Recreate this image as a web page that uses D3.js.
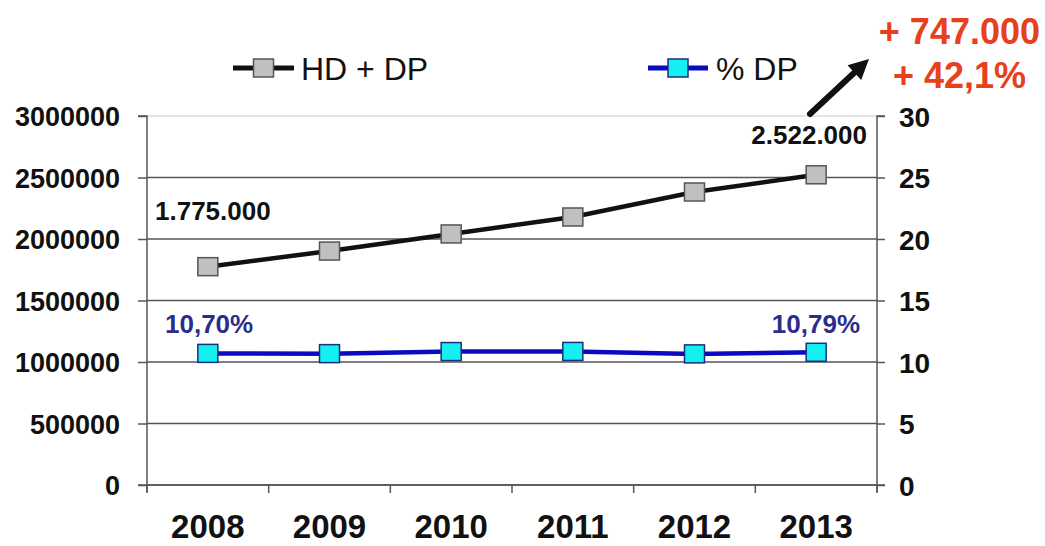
<!DOCTYPE html>
<html>
<head>
<meta charset="utf-8">
<script src="https://cdn.jsdelivr.net/npm/d3@7"></script>
<style>
  html, body { margin: 0; padding: 0; background: #fff; }
  svg { display: block; font-family: Arial, "Liberation Sans", sans-serif; }
</style>
</head>
<body>
<svg id="chart" width="1045" height="546"></svg>
<script>
// Yearly data
const years = ["2008", "2009", "2010", "2011", "2012", "2013"];
const hdDp = [1775000, 1902000, 2041000, 2179000, 2382000, 2522000];
const pctDp = [10.70, 10.68, 10.85, 10.86, 10.66, 10.79];

// Axis tick values
const leftTicks = [0, 500000, 1000000, 1500000, 2000000, 2500000, 3000000];
const rightTicks = [0, 5, 10, 15, 20, 25, 30];

// Labels
const seriesNames = ["HD + DP", "% DP"];
const firstValueLabel = "1.775.000";
const lastValueLabel = "2.522.000";
const firstPctLabel = "10,70%";
const lastPctLabel = "10,79%";
const growthLabels = ["+ 747.000", "+ 42,1%"];

const svg = d3.select("#chart");
const L = 147, R = 877, T = 116, B = 485;

const x = d3.scaleBand().domain(years).range([L, R]).paddingInner(0).paddingOuter(0);
const yL = d3.scaleLinear().domain([0, 3000000]).range([B, T]);
const yR = d3.scaleLinear().domain([0, 30]).range([B, T]);

// Gridlines
svg.append("g")
  .selectAll("line")
  .data(leftTicks)
  .join("line")
  .attr("x1", L).attr("x2", R)
  .attr("y1", d => yL(d)).attr("y2", d => yL(d))
  .attr("stroke", d => d === 3000000 ? "#dcdcdc" : "#555")
  .attr("stroke-width", 1.5);

// Left axis
const gL = svg.append("g").attr("transform", `translate(${L},0)`)
  .call(d3.axisLeft(yL).tickValues(leftTicks).tickSize(9).tickPadding(18).tickFormat(d => String(d)));
gL.select(".domain").attr("stroke", "#555").attr("stroke-width", 1.5).attr("d", `M-9,${T}H0V${B + 7}`);
gL.selectAll(".tick line").attr("stroke", "#555").attr("stroke-width", 1.5);
gL.selectAll(".tick text").attr("font-size", 27).attr("font-weight", "bold").attr("fill", "#111")
  .attr("font-family", "Arial, 'Liberation Sans', sans-serif").attr("dy", "0.36em");

// Right axis
const gR = svg.append("g").attr("transform", `translate(${R},0)`)
  .call(d3.axisRight(yR).tickValues(rightTicks).tickSize(8).tickPadding(14).tickFormat(d => String(d)));
gR.select(".domain").attr("stroke", "#555").attr("stroke-width", 1.5).attr("d", `M8,${T}H0V${B + 7}`);
gR.selectAll(".tick line").attr("stroke", "#555").attr("stroke-width", 1.5);
gR.selectAll(".tick text").attr("font-size", 28).attr("font-weight", "bold").attr("fill", "#111")
  .attr("font-family", "Arial, 'Liberation Sans', sans-serif").attr("dy", "0.36em");

// Bottom axis: ticks between categories
const boundaries = years.map(d => x(d)).concat([x(years[years.length - 1]) + x.bandwidth()]);
svg.append("g").selectAll("line").data(boundaries).join("line")
  .attr("x1", d => d).attr("x2", d => d)
  .attr("y1", B).attr("y2", B + 8)
  .attr("stroke", "#555").attr("stroke-width", 1.5);
svg.append("line").attr("x1", L - 9).attr("x2", R + 8).attr("y1", B).attr("y2", B)
  .attr("stroke", "#555").attr("stroke-width", 1.5);
svg.append("g").selectAll("text").data(years).join("text")
  .attr("x", d => x(d) + x.bandwidth() / 2)
  .attr("y", 538)
  .attr("text-anchor", "middle")
  .attr("font-size", 33).attr("font-weight", "bold").attr("fill", "#111")
  .text(d => d);

const cx = d => x(d) + x.bandwidth() / 2;
const mw = 20, mh = 18;

// HD + DP line
const lineL = d3.line().x((d, i) => cx(years[i])).y(d => yL(d));
svg.append("path").datum(hdDp).attr("d", lineL)
  .attr("fill", "none").attr("stroke", "#111").attr("stroke-width", 4.5);
svg.append("g").selectAll("rect").data(hdDp).join("rect")
  .attr("x", (d, i) => cx(years[i]) - mw / 2)
  .attr("y", d => yL(d) - mh / 2)
  .attr("width", mw).attr("height", mh)
  .attr("fill", "#c0c0c0").attr("stroke", "#555").attr("stroke-width", 1.5);

// % DP line
const lineR = d3.line().x((d, i) => cx(years[i])).y(d => yR(d));
svg.append("path").datum(pctDp).attr("d", lineR)
  .attr("fill", "none").attr("stroke", "#0a0abf").attr("stroke-width", 4.5);
svg.append("g").selectAll("rect").data(pctDp).join("rect")
  .attr("x", (d, i) => cx(years[i]) - mw / 2)
  .attr("y", d => yR(d) - mh / 2)
  .attr("width", mw).attr("height", mh)
  .attr("fill", "#14f0f0").attr("stroke", "#1a2f80").attr("stroke-width", 1.5);

// Value labels
svg.append("text").attr("x", 155).attr("y", 220)
  .attr("font-size", 26).attr("font-weight", "bold").attr("fill", "#111").text(firstValueLabel);
svg.append("text").attr("x", 867).attr("y", 144).attr("text-anchor", "end")
  .attr("font-size", 26).attr("font-weight", "bold").attr("fill", "#111").text(lastValueLabel);
svg.append("text").attr("x", 165).attr("y", 333)
  .attr("font-size", 26).attr("font-weight", "bold").attr("fill", "#2b2d8c").text(firstPctLabel);
svg.append("text").attr("x", 860).attr("y", 333).attr("text-anchor", "end")
  .attr("font-size", 26).attr("font-weight", "bold").attr("fill", "#2b2d8c").text(lastPctLabel);

// Legend
const legend = [
  { name: seriesNames[0], x1: 233, x2: 294, stroke: "#111", fill: "#c0c0c0", edge: "#555", tx: 301 },
  { name: seriesNames[1], x1: 648, x2: 708, stroke: "#0a0abf", fill: "#14f0f0", edge: "#1a2f80", tx: 716 }
];
const lg = svg.append("g").selectAll("g").data(legend).join("g");
lg.append("line").attr("x1", d => d.x1).attr("x2", d => d.x2).attr("y1", 68).attr("y2", 68)
  .attr("stroke", d => d.stroke).attr("stroke-width", 5);
lg.append("rect").attr("x", d => (d.x1 + d.x2) / 2 - mw / 2).attr("y", 68 - mh / 2).attr("width", mw).attr("height", mh)
  .attr("fill", d => d.fill).attr("stroke", d => d.edge).attr("stroke-width", 1.5);
lg.append("text").attr("x", d => d.tx).attr("y", 80)
  .attr("font-size", 32).attr("fill", "#111").text(d => d.name);

// Growth arrow and annotation
const aStart = [810, 114], aTip = [869, 59];
const dx = aTip[0] - aStart[0], dy = aTip[1] - aStart[1];
const len = Math.hypot(dx, dy), ux = dx / len, uy = dy / len;
const headLen = 20, headHalf = 10;
const hb = [aTip[0] - headLen * ux, aTip[1] - headLen * uy];
svg.append("line").attr("x1", aStart[0]).attr("y1", aStart[1]).attr("x2", hb[0] + 2 * ux).attr("y2", hb[1] + 2 * uy)
  .attr("stroke", "#111").attr("stroke-width", 6).attr("stroke-linecap", "round");
svg.append("path")
  .attr("d", `M${aTip[0]},${aTip[1]}L${hb[0] - headHalf * uy},${hb[1] + headHalf * ux}L${hb[0] + headHalf * uy},${hb[1] - headHalf * ux}Z`)
  .attr("fill", "#111");
svg.append("text").attr("x", 1040).attr("y", 44).attr("text-anchor", "end")
  .attr("font-size", 36).attr("font-weight", "bold").attr("fill", "#e8401c").text(growthLabels[0]);
svg.append("text").attr("x", 1026).attr("y", 88).attr("text-anchor", "end")
  .attr("font-size", 36).attr("font-weight", "bold").attr("fill", "#e8401c").text(growthLabels[1]);
</script>
</body>
</html>
